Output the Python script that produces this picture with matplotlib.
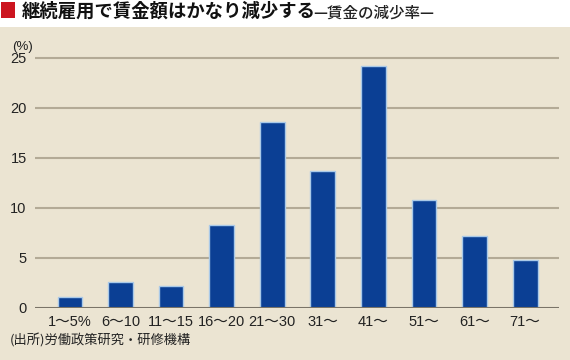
import matplotlib
matplotlib.use("Agg")
import matplotlib.pyplot as plt
from matplotlib.patches import Rectangle

categories = ["1～5%", "6～10", "11～15", "16～20", "21～30", "31～", "41～", "51～", "61～", "71～"]
values = [1.1, 2.6, 2.2, 8.3, 18.6, 13.7, 24.2, 10.8, 7.2, 4.8]
yticks = [0, 5, 10, 15, 20, 25]

title = "継続雇用で賃金額はかなり減少する"
subtitle = "—賃金の減少率—"
source = "(出所)労働政策研究・研修機構"

plt.rcParams['font.family'] = ['Liberation Sans', 'Noto Sans CJK JP', 'DejaVu Sans']

W, H = 570, 360
bg = "#ebe4d2"
fig = plt.figure(figsize=(W / 100, H / 100), dpi=100, facecolor=bg)

# white header band + red square
fig.patches.append(Rectangle((0, 1 - 26.5 / H), 1, 26.5 / H, transform=fig.transFigure,
                             facecolor="white", edgecolor="none", zorder=0))
fig.patches.append(Rectangle((1 / W, 1 - 18 / H), 14 / W, 16 / H, transform=fig.transFigure,
                             facecolor="#cc1520", edgecolor="none", zorder=1))

t = fig.text(22 / W, 1 - 11.5 / H, title, fontsize=13.2, fontweight="bold",
             family=['Noto Sans CJK JP'], va="center", ha="left", color="#111111")

ax = fig.add_axes([35 / W, 52.3 / H, (559 - 35) / W, (307.7 - 52.0) / H])
ax.set_facecolor(bg)

x = list(range(len(categories)))
ax.bar(x, values, width=0.49, color="#0b3f94", edgecolor="#a9c9e8", linewidth=1.0, zorder=3)

ax.set_xlim(-0.69, 9.67)
ax.set_ylim(0, 25.55)
ax.set_yticks(yticks)
ax.set_yticklabels([str(v) for v in yticks])
ax.set_xticks(x)
ax.set_xticklabels(categories)
for yv in yticks[1:]:
    ax.axhline(yv, color="#b3aa96", linewidth=1.5, zorder=1)
ax.axhline(0, color="#7a7468", linewidth=1.5, zorder=4)

for s in ax.spines.values():
    s.set_visible(False)
ax.tick_params(axis="both", length=0, labelsize=10.5, colors="#222222")
ax.tick_params(axis="y", pad=6)
ax.tick_params(axis="x", pad=5)

fig.text(12 / W, 1 - 47 / H, "(%)", fontsize=9.5, va="center", ha="left", color="#222222")
fig.text(10 / W, 1 - 341 / H, source, fontsize=9.5, family=['Noto Sans CJK JP'],
         va="center", ha="left", color="#222222")

# subtitle right after the bold title
fig.canvas.draw()
bb = t.get_window_extent()
fig.text((bb.x1 - 3) / W, 1 - 13 / H, subtitle, fontsize=11.2, fontweight="medium",
         family=['Noto Sans CJK JP'], va="center", ha="left", color="#222222")

fig.savefig("out.png", dpi=100, facecolor=bg)
